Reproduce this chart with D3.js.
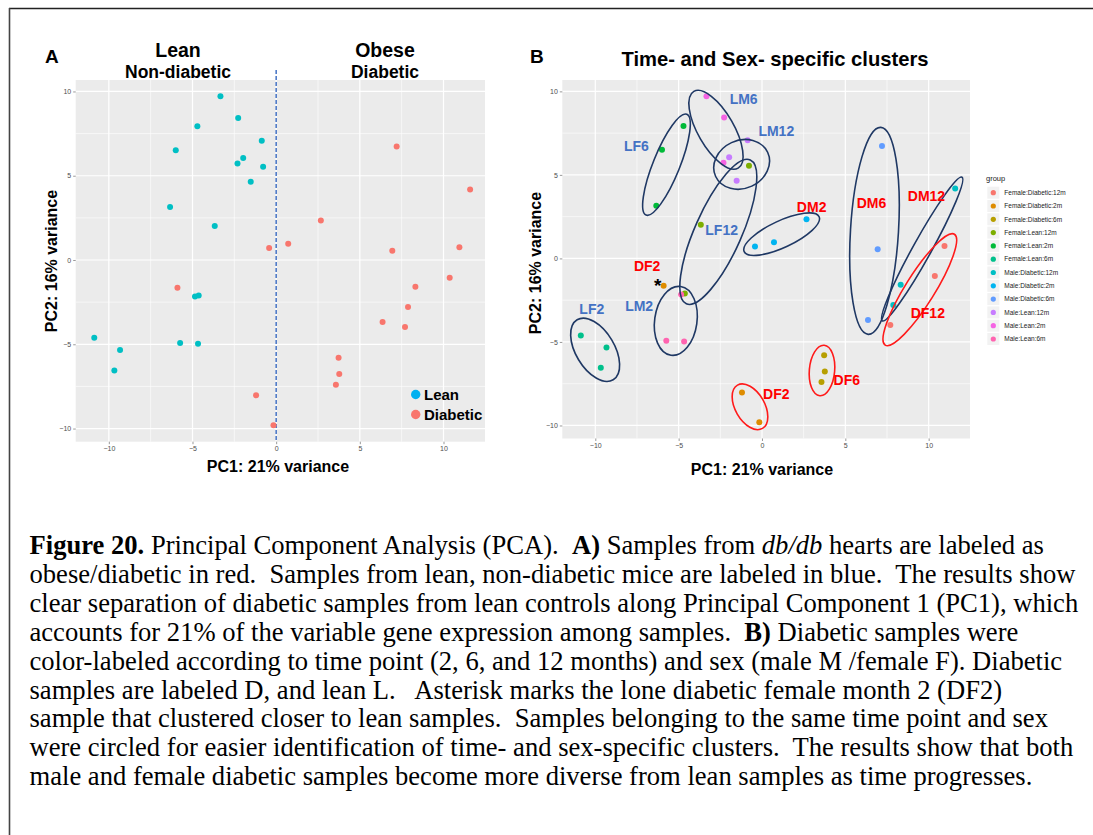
<!DOCTYPE html>
<html>
<head>
<meta charset="utf-8">
<script src="https://cdn.jsdelivr.net/npm/d3@7"></script>
<style>
    body { margin: 0; background: #fff; }
    svg { display: block; }
</style>
</head>
<body>
<div id="container"></div>
<script>
// ---- data ----
const groups = [
    "Female:Diabetic:12m", "Female:Diabetic:2m", "Female:Diabetic:6m",
    "Female:Lean:12m", "Female:Lean:2m", "Female:Lean:6m",
    "Male:Diabetic:12m", "Male:Diabetic:2m", "Male:Diabetic:6m",
    "Male:Lean:12m", "Male:Lean:2m", "Male:Lean:6m",
];
const groupColors = [
    "#F8766D", "#DE8C00", "#B79F00", "#7CAE00", "#00BA38", "#00C08B",
    "#00BFC4", "#00B4F0", "#619CFF", "#C77CFF", "#F564E3", "#FF64B0",
];
// three samples per group, in the order of `groups`
const pc1 = [
    10.95, 10.37, 7.70,
    -5.90, -1.20, -0.16,
    3.73, 3.77, 3.57,
    -0.78, -3.67, -4.63,
    -4.71, -6.00, -6.34,
    -10.87, -9.33, -9.67,
    11.59, 8.32, 7.88,
    -0.42, 0.72, 2.67,
    7.20, 6.94, 6.36,
    -0.86, -1.97, -1.52,
    -3.33, -2.27, -2.31,
    -4.85, -5.74, -4.67,
];
const pc2 = [
    0.75, -1.05, -3.98,
    -1.64, -8.03, -9.81,
    -5.80, -6.77, -7.40,
    5.54, 2.02, -2.10,
    7.93, 6.51, 3.15,
    -4.61, -5.34, -6.55,
    4.19, -1.58, -2.79,
    0.71, 0.97, 2.35,
    6.73, 0.55, -3.68,
    7.08, 6.05, 4.65,
    9.71, 8.43, 5.72,
    -2.16, -4.93, -4.97,
];
const sampleGroup = groups.flatMap((g) => [g, g, g]);

const xTicks = [-10, -5, 0, 5, 10];
const yTicks = [-10, -5, 0, 5, 10];
const xDomain = [-11.98, 12.48];
const yDomain = [-10.78, 10.68];

// hand-drawn cluster ellipses: centre (pc1, pc2), semi axes (pc units), angle (deg), diabetic female?
const clusterEllipses = [
    [-10.01, -5.47, 2.10, 1.16, 59, false],   // LF2
    [-5.73, 5.61, 3.26, 0.80, -68, false],    // LF6
    [-2.76, 7.70, 2.66, 1.08, 60, false],     // LM6
    [-1.22, 5.63, 1.72, 1.44, -25, false],    // LM12
    [-2.62, 1.59, 4.72, 1.40, -66, false],    // LF12
    [-5.17, -3.74, 2.08, 1.27, -82, false],   // LM2
    [1.18, 1.45, 2.48, 0.80, -25, false],     // DM2
    [6.75, 1.65, 6.22, 1.44, -86.5, false],   // DM6
    [9.61, 0.56, 4.93, 0.55, -61, false],     // DM12
    [-0.72, -8.88, 1.50, 0.88, 60, true],     // DF2
    [3.60, -6.71, 1.52, 0.76, -85, true],     // DF6
    [9.47, -1.87, 3.92, 0.88, -58, true],     // DF12
];
// cluster labels: text, pc1, pc2 (centre of text)
const clusterLabels = [
    ["LM6", -1.10, 9.55], ["LM12", 0.86, 7.60], ["LF6", -7.53, 6.71],
    ["LF12", -2.42, 1.69], ["DM2", 2.98, 3.08], ["DM6", 6.57, 3.30],
    ["DM12", 9.87, 3.72], ["DF2", -6.89, -0.48], ["LF2", -10.21, -3.04],
    ["LM2", -7.37, -2.87], ["DF12", 9.95, -3.24], ["DF6", 5.09, -7.26],
    ["DF2", 0.86, -8.14],
];
const asterisk = [-6.25, -1.29];

const captionLines = [
    [["b", "Figure 20."], ["n", " Principal Component Analysis (PCA).  "], ["b", "A)"], ["n", " Samples from "], ["i", "db/db"], ["n", " hearts are labeled as"]],
    [["n", "obese/diabetic in red.  Samples from lean, non-diabetic mice are labeled in blue.  The results show"]],
    [["n", "clear separation of diabetic samples from lean controls along Principal Component 1 (PC1), which"]],
    [["n", "accounts for 21% of the variable gene expression among samples.  "], ["b", "B)"], ["n", " Diabetic samples were"]],
    [["n", "color-labeled according to time point (2, 6, and 12 months) and sex (male M /female F). Diabetic"]],
    [["n", "samples are labeled D, and lean L.   Asterisk marks the lone diabetic female month 2 (DF2)"]],
    [["n", "sample that clustered closer to lean samples.  Samples belonging to the same time point and sex"]],
    [["n", "were circled for easier identification of time- and sex-specific clusters.  The results show that both"]],
    [["n", "male and female diabetic samples become more diverse from lean samples as time progresses."]],
];

// ---- layout ----
const width = 1093;
const height = 835;
const SANS = "'Liberation Sans', Arial, sans-serif";
const SERIF = "'Liberation Serif', 'Times New Roman', serif";
const LABEL_BLUE = "#4472C4";
const LABEL_RED = "#FF0000";

const samples = pc1.map((x, i) => ({
    x: x,
    y: pc2[i],
    group: sampleGroup[i],
    lean: sampleGroup[i].includes("Lean"),
}));

const svg = d3.select("#container")
    .append("svg")
    .attr("width", width)
    .attr("height", height);

// figure frame (top and left rules)
svg.append("line").attr("x1", 9).attr("x2", width).attr("y1", 8.5).attr("y2", 8.5)
    .attr("stroke", "#222").attr("stroke-width", 1.6);
svg.append("line").attr("x1", 9.5).attr("x2", 9.5).attr("y1", 8).attr("y2", height)
    .attr("stroke", "#444").attr("stroke-width", 1.6);

// draws ggplot-like panel background, grid and axis ticks
const drawPanel = (x, y) => {
    const g = svg.append("g");
    const [x0, x1] = x.range();
    const [y1, y0] = y.range();
    g.append("rect")
        .attr("x", x0).attr("y", y0)
        .attr("width", x1 - x0).attr("height", y1 - y0)
        .attr("fill", "#EBEBEB");
    const minorX = xTicks.slice(1).map((t, i) => (t + xTicks[i]) / 2);
    const minorY = yTicks.slice(1).map((t, i) => (t + yTicks[i]) / 2);
    g.selectAll(".mx").data(minorX).join("line")
        .attr("x1", (d) => x(d)).attr("x2", (d) => x(d))
        .attr("y1", y0).attr("y2", y1)
        .attr("stroke", "#fff").attr("stroke-width", 0.6);
    g.selectAll(".my").data(minorY).join("line")
        .attr("y1", (d) => y(d)).attr("y2", (d) => y(d))
        .attr("x1", x0).attr("x2", x1)
        .attr("stroke", "#fff").attr("stroke-width", 0.6);
    g.selectAll(".gx").data(xTicks).join("line")
        .attr("x1", (d) => x(d)).attr("x2", (d) => x(d))
        .attr("y1", y0).attr("y2", y1)
        .attr("stroke", "#fff").attr("stroke-width", 1.2);
    g.selectAll(".gy").data(yTicks).join("line")
        .attr("y1", (d) => y(d)).attr("y2", (d) => y(d))
        .attr("x1", x0).attr("x2", x1)
        .attr("stroke", "#fff").attr("stroke-width", 1.2);

    const xAxis = g.append("g")
        .attr("transform", `translate(0,${y1})`)
        .call(d3.axisBottom(x).tickValues(xTicks).tickSize(2.5).tickPadding(2).tickFormat(d3.format("d")));
    const yAxis = g.append("g")
        .attr("transform", `translate(${x0},0)`)
        .call(d3.axisLeft(y).tickValues(yTicks).tickSize(2.5).tickPadding(2).tickFormat(d3.format("d")));
    [xAxis, yAxis].forEach((a) => {
        a.select(".domain").remove();
        a.selectAll(".tick line").attr("stroke", "#555").attr("stroke-width", 0.6);
        a.selectAll(".tick text")
            .attr("fill", "#4D4D4D")
            .style("font-family", SANS)
            .style("font-size", "7px");
    });
    return g;
};

const addText = (txt, x, y, size, opts = {}) => {
    const t = svg.append("text")
        .attr("x", x).attr("y", y)
        .attr("text-anchor", opts.anchor || "start")
        .attr("fill", opts.fill || "#000")
        .style("font-family", opts.family || SANS)
        .style("font-size", size + "px")
        .style("font-weight", opts.weight || "bold")
        .text(txt);
    if (opts.rotate) t.attr("transform", `rotate(-90,${x},${y})`);
    return t;
};

// ================= panel A =================
const xA = d3.scaleLinear().domain(xDomain).range([75.7, 485]);
const yA = d3.scaleLinear().domain(yDomain).range([441.7, 80]);
drawPanel(xA, yA);

// dashed separator at PC1 = 0
svg.append("line")
    .attr("x1", xA(0)).attr("x2", xA(0))
    .attr("y1", 70).attr("y2", yA.range()[0])
    .attr("stroke", "#4472C4").attr("stroke-width", 1.5)
    .attr("stroke-dasharray", "4,2");

svg.append("g").selectAll("circle")
    .data(samples)
    .join("circle")
    .attr("cx", (d) => xA(d.x))
    .attr("cy", (d) => yA(d.y))
    .attr("r", 3)
    .attr("fill", (d) => (d.lean ? "#00BFC4" : "#F8766D"));

addText("A", 45, 62.5, 19);
addText("Lean", 178, 56.5, 19.5, { anchor: "middle" });
addText("Non-diabetic", 178, 77.5, 17.5, { anchor: "middle" });
addText("Obese", 385, 56.5, 19.5, { anchor: "middle" });
addText("Diabetic", 385, 77.5, 17.5, { anchor: "middle" });
addText("PC1: 21% variance", 278, 471.5, 16, { anchor: "middle" });
addText("PC2: 16% variance", 57, 261, 16, { anchor: "middle", rotate: true });

// legend A
const legendA = [["Lean", "#00B0F0"], ["Diabetic", "#F8766D"]];
legendA.forEach(([name, col], i) => {
    svg.append("circle").attr("cx", 415.7).attr("cy", 394.5 + i * 20).attr("r", 4.7).attr("fill", col);
    addText(name, 424, 400 + i * 20, 15);
});

// ================= panel B =================
const xB = d3.scaleLinear().domain(xDomain).range([562.3, 970]);
const yB = d3.scaleLinear().domain(yDomain).range([438.5, 80]);
drawPanel(xB, yB);
const color = d3.scaleOrdinal().domain(groups).range(groupColors);
const unitPx = xB(1) - xB(0);

svg.append("g").selectAll("circle")
    .data(samples)
    .join("circle")
    .attr("cx", (d) => xB(d.x))
    .attr("cy", (d) => yB(d.y))
    .attr("r", 3)
    .attr("fill", (d) => color(d.group));

svg.append("g").selectAll("ellipse")
    .data(clusterEllipses)
    .join("ellipse")
    .attr("transform", (d) => `translate(${xB(d[0])},${yB(d[1])}) rotate(${d[4]})`)
    .attr("rx", (d) => d[2] * unitPx)
    .attr("ry", (d) => d[3] * unitPx)
    .attr("fill", "none")
    .attr("stroke", (d) => (d[5] ? "#FF1A1A" : "#1F3864"))
    .attr("stroke-width", 1.6);

svg.append("g").selectAll("text")
    .data(clusterLabels)
    .join("text")
    .attr("x", (d) => xB(d[1]))
    .attr("y", (d) => yB(d[2]))
    .attr("dy", "0.36em")
    .attr("text-anchor", "middle")
    .attr("fill", (d) => (d[0][0] === "L" ? LABEL_BLUE : LABEL_RED))
    .style("font-family", SANS)
    .style("font-size", "14px")
    .style("font-weight", "bold")
    .text((d) => d[0]);

addText("*", xB(asterisk[0]), yB(asterisk[1]) + 12, 19, { anchor: "middle" });

addText("B", 530, 62.5, 19);
addText("Time- and Sex- specific clusters", 775, 66, 20.2, { anchor: "middle" });
addText("PC1: 21% variance", 762, 475, 16, { anchor: "middle" });
addText("PC2: 16% variance", 541, 263, 16, { anchor: "middle", rotate: true });

// legend B
addText("group", 986, 181, 7.5, { weight: "normal", fill: "#1a1a1a" });
const legB = svg.append("g").selectAll("g")
    .data(groups)
    .join("g")
    .attr("transform", (d, i) => `translate(993.3,${192.7 + i * 13.3})`);
legB.append("rect")
    .attr("x", -6).attr("y", -6).attr("width", 12).attr("height", 12)
    .attr("fill", "#F2F2F2");
legB.append("circle").attr("r", 2.6).attr("fill", (d) => color(d));
legB.append("text")
    .attr("x", 11).attr("dy", "0.35em")
    .attr("fill", "#1a1a1a")
    .style("font-family", SANS)
    .style("font-size", "6.5px")
    .text((d) => d);

// ================= caption =================
const caption = svg.append("g");
captionLines.forEach((segs, i) => {
    const t = caption.append("text")
        .attr("x", 29.5)
        .attr("y", 554 + i * 28.9)
        .style("font-family", SERIF)
        .style("font-size", "26.6px")
        .style("white-space", "pre")
        .attr("fill", "#000");
    segs.forEach(([kind, s]) => {
        t.append("tspan")
            .style("font-weight", kind === "b" ? "bold" : "normal")
            .style("font-style", kind === "i" ? "italic" : "normal")
            .text(s);
    });
});
</script>
</body>
</html>
